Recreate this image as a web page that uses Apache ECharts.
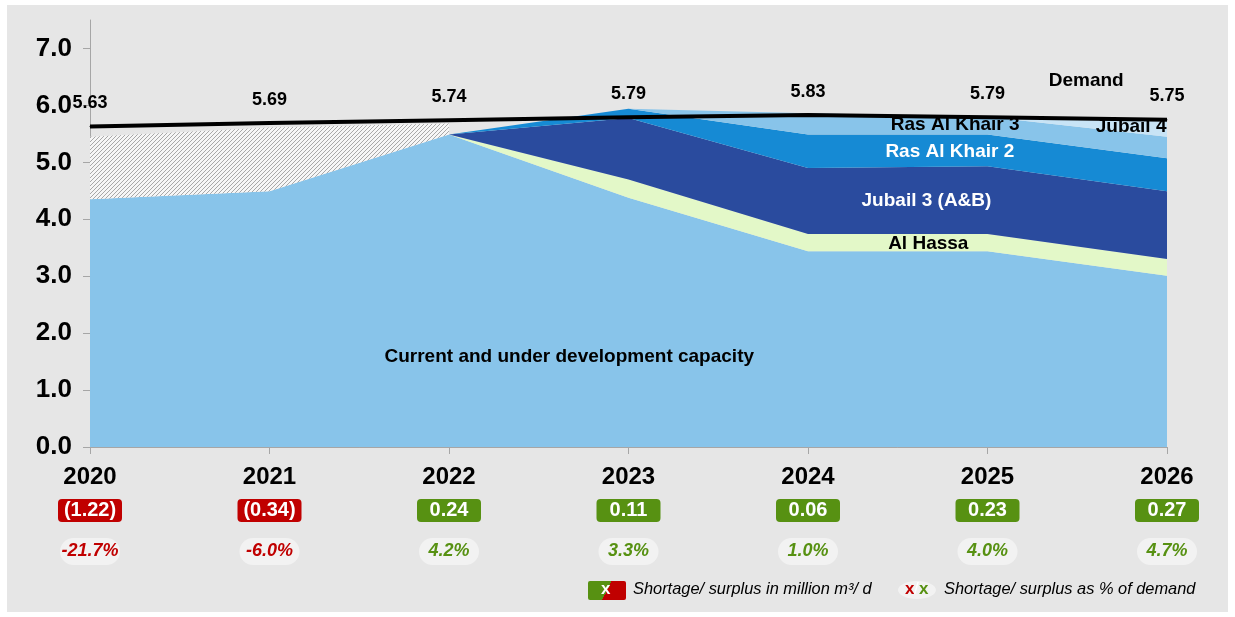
<!DOCTYPE html>
<html>
<head>
<meta charset="utf-8">
<script src="https://cdn.jsdelivr.net/npm/echarts@6/dist/echarts.min.js"></script>
<style>
  html, body { margin: 0; padding: 0; background: #fff; }
  #frame { position: absolute; left: 7px; top: 5px; width: 1221px; height: 607px; background: #e6e6e6; }
  #chart { position: absolute; left: 0; top: 0; width: 1235px; height: 617px; }
</style>
</head>
<body>
<div id="frame"></div>
<div id="chart"></div>
<script>
// values, million m3/d
const years = ['2020', '2021', '2022', '2023', '2024', '2025', '2026']
const demand = [5.63, 5.69, 5.74, 5.79, 5.83, 5.79, 5.75]
const currentCapacity = [4.35, 4.49, 5.49, 4.38, 3.44, 3.44, 3.01]
const alHassa = ['-', '-', 0, 0.32, 0.30, 0.30, 0.29]
const jubail3 = ['-', '-', 0, 1.08, 1.16, 1.19, 1.19]
const rasAlKhair2 = ['-', '-', 0, 0.16, 0.59, 0.56, 0.58]
const rasAlKhair3 = ['-', '-', '-', 0, 0.37, 0.31, 0.38]
const jubail4 = ['-', '-', '-', '-', '-', 0, 0.28]
const shortfall = [1.10, 1.12, 0.19, '-', '-', '-', '-']
const gapValues = [-1.22, -0.34, 0.24, 0.11, 0.06, 0.23, 0.27]
const gapPct = [-21.7, -6.0, 4.2, 3.3, 1.0, 4.0, 4.7]
const yTicks = [0, 1, 2, 3, 4, 5, 6, 7]

const FONT = "'Liberation Sans', Arial, sans-serif"
const RED = '#c00000'
const GREEN = '#579112'
const AXIS_GRAY = '#a6a6a6'

// hatched fill for the shortfall wedge
function hatch () {
  const c = document.createElement('canvas')
  c.width = 4
  c.height = 4
  const ctx = c.getContext('2d')
  ctx.fillStyle = '#f6f6f6'
  ctx.fillRect(0, 0, 4, 4)
  ctx.strokeStyle = '#a8a8a8'
  ctx.lineWidth = 1
  ctx.beginPath()
  ctx.moveTo(0, 4); ctx.lineTo(4, 0)
  ctx.moveTo(-1, 1); ctx.lineTo(1, -1)
  ctx.moveTo(3, 5); ctx.lineTo(5, 3)
  ctx.stroke()
  return c
}

// text placed inside the areas, in data units (x = year index)
const labelSpots = [
  { text: 'Current and under development capacity', x: 2.67, y: 1.59, color: '#000' },
  { text: 'Al Hassa', x: 4.67, y: 3.57, color: '#000' },
  { text: 'Jubail 3 (A&B)', x: 4.66, y: 4.32, color: '#fff' },
  { text: 'Ras Al Khair 2', x: 4.79, y: 5.19, color: '#fff' },
  { text: 'Ras Al Khair 3', x: 4.82, y: 5.66, color: '#000' },
  { text: 'Jubail 4', x: 5.80, y: 5.62, color: '#000' },
  { text: 'Demand', x: 5.55, y: 6.43, color: '#000' }
]

function areaSeries (name, data, color) {
  return {
    name: name,
    type: 'line',
    stack: 'cap',
    data: data,
    symbol: 'none',
    lineStyle: { width: 0 },
    areaStyle: { color: color, opacity: 1 },
    itemStyle: { color: color }
  }
}

function boxStyle (bg) {
  return { color: '#fff', backgroundColor: bg, borderRadius: 4, width: 64, height: 23, lineHeight: 23, align: 'center', fontSize: 20, fontWeight: 'bold', fontFamily: FONT }
}

function pctStyle (fg) {
  return { color: fg, backgroundColor: '#f2f2f2', borderRadius: 14, width: 60, height: 27, lineHeight: 27, align: 'center', fontSize: 18, fontStyle: 'italic', fontWeight: 'bold', fontFamily: FONT }
}

const myChart = echarts.init(document.getElementById('chart'))

const option = {
  animation: false,
  backgroundColor: 'transparent',
  textStyle: { fontFamily: FONT },
  grid: { left: 90, right: 68, top: 20, bottom: 170 },
  xAxis: [
    {
      type: 'category',
      data: years,
      boundaryGap: false,
      axisLine: { lineStyle: { color: AXIS_GRAY, width: 1 } },
      axisTick: { show: true, length: 7, lineStyle: { color: AXIS_GRAY } },
      axisLabel: { interval: 0, margin: 18, color: '#000', fontSize: 24, fontWeight: 'bold', fontFamily: FONT }
    },
    { type: 'value', min: 0, max: 6, show: false },
    {
      type: 'category',
      data: years,
      boundaryGap: false,
      position: 'bottom',
      axisLine: { show: false },
      axisTick: { show: false },
      axisLabel: {
        interval: 0,
        margin: 52,
        formatter: (v, i) => {
          const g = gapValues[i]
          return g < 0 ? '{neg|(' + Math.abs(g).toFixed(2) + ')}' : '{pos|' + g.toFixed(2) + '}'
        },
        rich: { neg: boxStyle(RED), pos: boxStyle(GREEN) }
      }
    },
    {
      type: 'category',
      data: years,
      boundaryGap: false,
      position: 'bottom',
      axisLine: { show: false },
      axisTick: { show: false },
      axisLabel: {
        interval: 0,
        margin: 91,
        formatter: (v, i) => {
          const p = gapPct[i]
          return (p < 0 ? '{neg|' : '{pos|') + p.toFixed(1) + '%}'
        },
        rich: { neg: pctStyle(RED), pos: pctStyle(GREEN) }
      }
    }
  ],
  yAxis: {
    type: 'value',
    min: 0,
    max: 7.5,
    axisLine: { show: true, lineStyle: { color: AXIS_GRAY, width: 1 } },
    axisTick: { show: true, length: 7, lineStyle: { color: AXIS_GRAY }, customValues: yTicks },
    splitLine: { show: false },
    axisLabel: {
      customValues: yTicks,
      margin: 18,
      color: '#000',
      fontSize: 26,
      fontWeight: 'bold',
      fontFamily: FONT,
      formatter: v => v.toFixed(1)
    }
  },
  series: [
    areaSeries('Current and under development capacity', currentCapacity, '#88c4ea'),
    areaSeries('Al Hassa', alHassa, '#e3f8c8'),
    areaSeries('Jubail 3 (A&B)', jubail3, '#2a4b9e'),
    areaSeries('Ras Al Khair 2', rasAlKhair2, '#168ad4'),
    areaSeries('Ras Al Khair 3', rasAlKhair3, '#88c4ea'),
    areaSeries('Jubail 4', jubail4, '#c8e4f6'),
    areaSeries('Shortfall', shortfall, { image: hatch(), repeat: 'repeat' }),
    {
      name: 'labels',
      type: 'scatter',
      xAxisIndex: 1,
      z: 4,
      symbolSize: 0,
      silent: true,
      itemStyle: { opacity: 1 },
      data: labelSpots.map(s => ({ name: s.text, value: [s.x, s.y], label: { color: s.color } })),
      label: { show: true, position: 'inside', formatter: '{b}', fontSize: 19, fontWeight: 'bold', fontFamily: FONT }
    },
    {
      name: 'Demand',
      type: 'line',
      data: demand,
      z: 5,
      symbol: 'circle',
      symbolSize: 1,
      itemStyle: { color: '#000' },
      lineStyle: { color: '#000', width: 4 },
      label: {
        show: true,
        position: 'top',
        distance: 14,
        color: '#000',
        fontSize: 18,
        fontWeight: 'bold',
        fontFamily: FONT,
        formatter: p => p.value.toFixed(2)
      }
    }
  ],
  graphic: [
    {
      type: 'rect',
      left: 588,
      top: 581,
      shape: { width: 38, height: 19, r: 2 },
      style: {
        fill: new echarts.graphic.LinearGradient(0, 0, 1, 1, [
          { offset: 0, color: GREEN }, { offset: 0.5, color: GREEN },
          { offset: 0.5, color: RED }, { offset: 1, color: RED }
        ])
      }
    },
    { type: 'text', left: 601, top: 581, style: { text: 'x', fill: '#fff', font: 'bold 17px ' + FONT } },
    { type: 'text', left: 633, top: 581, style: { text: 'Shortage/ surplus in million m³/ d', fill: '#000', font: 'italic 16.4px ' + FONT } },
    { type: 'ellipse', shape: { cx: 917, cy: 590, rx: 19, ry: 9 }, style: { fill: '#f2f2f2' } },
    { type: 'text', left: 905, top: 581, style: { text: 'x', fill: RED, font: 'bold 17px ' + FONT } },
    { type: 'text', left: 914, top: 581, style: { text: '/', fill: '#fff', font: '17px ' + FONT } },
    { type: 'text', left: 919, top: 581, style: { text: 'x', fill: GREEN, font: 'bold 17px ' + FONT } },
    { type: 'text', left: 944, top: 581, style: { text: 'Shortage/ surplus as % of demand', fill: '#000', font: 'italic 16.4px ' + FONT } }
  ]
}

myChart.setOption(option)
window.addEventListener('resize', () => {
  myChart.resize()
})
</script>
</body>
</html>
